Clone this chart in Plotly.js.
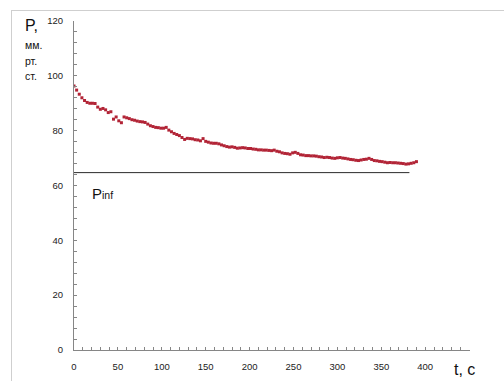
<!DOCTYPE html>
<html>
<head>
<meta charset="utf-8">
<script src="https://cdn.plot.ly/plotly-3.0.1.min.js"></script>
<style>
  html, body { margin: 0; padding: 0; background: #fff; overflow: hidden; }
  #chart { width: 504px; height: 381px; position: relative; }
  #frame { position: absolute; left: 11px; top: 10px; width: 600px; height: 500px;
           border-top: 1px solid #cfcfcf; border-left: 1px solid #cfcfcf; pointer-events: none; }
</style>
</head>
<body>
<div id="chart"></div>
<div id="frame"></div>
<script>
// Time, s
const tValues = [0,3,6,9,12,15,18,21,24,27,30,33,36,39,42,45,48,51,54,57,
  60,63,66,69,72,75,78,81,84,87,90,93,96,99,102,105,108,111,114,117,
  120,123,126,129,132,135,138,141,144,147,150,153,156,159,162,165,168,171,174,177,
  180,183,186,189,192,195,198,201,204,207,210,213,216,219,222,225,228,231,234,237,
  240,243,246,249,252,255,258,261,264,267,270,273,276,279,282,285,288,291,294,297,
  300,303,306,309,312,315,318,321,324,327,330,333,336,339,342,345,348,351,354,357,
  360,363,366,369,372,375,378,381,384,387,390];
// Pressure, mm Hg
const pValues = [96.3,94.8,93.3,92.0,91.0,90.3,90.0,90.0,89.9,88.6,87.8,88.1,87.6,86.6,86.9,84.2,85.0,83.6,82.9,85.0,
  84.7,84.4,84.0,83.8,83.5,83.3,83.2,83.0,82.4,81.8,81.5,81.2,81.1,80.9,80.9,81.2,80.2,79.6,79.0,78.6,
  78.2,77.5,76.8,77.2,77.1,77.0,76.7,76.6,76.3,77.1,76.1,75.8,75.5,75.4,75.4,75.2,74.8,74.5,74.2,74.0,
  74.1,73.9,73.6,73.7,73.8,73.7,73.5,73.5,73.3,73.2,73.0,73.0,72.9,72.9,72.8,72.7,72.9,72.5,72.3,71.9,
  71.7,71.6,71.4,71.9,72.1,71.7,71.2,71.1,70.9,70.9,70.8,70.8,70.7,70.5,70.4,70.2,70.3,70.2,70.0,69.9,
  70.1,70.2,70.0,69.9,69.7,69.5,69.4,69.2,69.1,69.3,69.5,69.6,69.9,69.5,69.1,69.0,68.8,68.7,68.5,68.3,
  68.4,68.3,68.3,68.2,68.1,68.0,67.8,67.9,68.1,68.3,68.7];
// Asymptotic pressure line
const pinfT = [0, 382];
const pinfValue = [64.7, 64.7];

const xTicks = [0,50,100,150,200,250,300,350,400];
const yTicks = [0,20,40,60,80,100,120];

const axisColor = '#868686';
const tickFont = {family: 'Liberation Sans, Arial, sans-serif', size: 9.5, color: '#222'};

const traces = [
  {x: tValues, y: pValues, mode: 'markers', type: 'scatter',
   marker: {color: 'rgb(178,36,54)', size: 3, symbol: 'square'}, hoverinfo: 'x+y'},
  {x: pinfT, y: pinfValue, mode: 'lines', type: 'scatter',
   line: {color: '#2b2b2b', width: 1}, hoverinfo: 'skip'}
];

const L = 74, T = 21, B = 31, R = 34, W = 504, H = 381;
const pw = W - L - R, ph = H - T - B;
function px(x) { return (x - L) / pw; }
function py(y) { return (H - B - y) / ph; }

const labelFont = {family: 'Liberation Sans, Arial, sans-serif', color: '#111'};

const layout = {
  width: W, height: H,
  margin: {l: L, r: R, t: T, b: B, pad: 0},
  paper_bgcolor: 'rgba(0,0,0,0)', plot_bgcolor: 'rgba(0,0,0,0)',
  showlegend: false,
  xaxis: {range: [0, 451], tickvals: xTicks, ticktext: xTicks.map(String),
    showgrid: false, zeroline: false, showline: true, linecolor: axisColor, linewidth: 1,
    ticks: 'inside', ticklen: 3, tickcolor: axisColor, tickfont: tickFont, ticklabelstandoff: 8,
    minor: {dtick: 10, tick0: 0, ticks: 'inside', ticklen: 3, tickcolor: axisColor, showgrid: false},
    fixedrange: true},
  yaxis: {range: [0, 120], tickvals: yTicks, ticktext: yTicks.map(String),
    showgrid: false, zeroline: false, showline: true, linecolor: axisColor, linewidth: 1,
    ticks: 'inside', ticklen: 3, tickcolor: axisColor, tickfont: tickFont, ticklabelstandoff: 8,
    minor: {dtick: 4, tick0: 0, ticks: 'inside', ticklen: 3, tickcolor: axisColor, showgrid: false},
    fixedrange: true},
  annotations: [
    {xref: 'paper', yref: 'paper', x: px(23), y: py(25), xanchor: 'left', yanchor: 'middle',
     text: 'P,', showarrow: false, font: Object.assign({size: 16}, labelFont)},
    {xref: 'paper', yref: 'paper', x: px(23), y: py(45), xanchor: 'left', yanchor: 'middle',
     text: 'мм.', showarrow: false, font: Object.assign({size: 10.5}, labelFont)},
    {xref: 'paper', yref: 'paper', x: px(23), y: py(61), xanchor: 'left', yanchor: 'middle',
     text: 'рт.', showarrow: false, font: Object.assign({size: 10.5}, labelFont)},
    {xref: 'paper', yref: 'paper', x: px(23), y: py(76), xanchor: 'left', yanchor: 'middle',
     text: 'ст.', showarrow: false, font: Object.assign({size: 10.5}, labelFont)},
    {xref: 'paper', yref: 'paper', x: px(452), y: py(369), xanchor: 'left', yanchor: 'middle',
     text: 't, c', showarrow: false, font: Object.assign({size: 16}, labelFont)},
    {xref: 'paper', yref: 'paper', x: px(90), y: py(193), xanchor: 'left', yanchor: 'middle',
     text: 'P<span style="font-size:10.5px">inf</span>', showarrow: false,
     font: Object.assign({size: 15}, labelFont)}
  ]
};

Plotly.newPlot('chart', traces, layout, {displayModeBar: false, staticPlot: true});
</script>
</body>
</html>
